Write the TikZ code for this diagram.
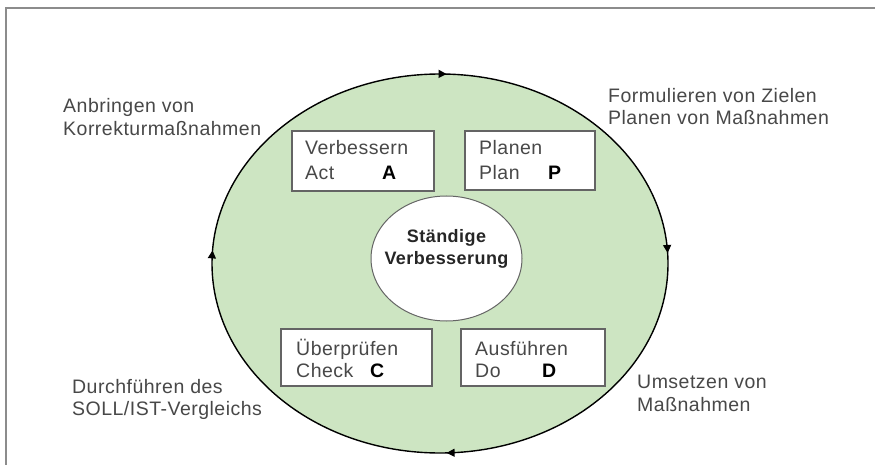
\documentclass[tikz,border=0pt]{standalone}
\usepackage{fontspec}
\setmainfont[LetterSpace=2.5]{Liberation Sans}
\usetikzlibrary{arrows.meta,decorations.markings}
\definecolor{cyclegreen}{RGB}{205,229,194}
\definecolor{txtgray}{RGB}{72,72,72}
\definecolor{framegray}{RGB}{140,140,140}
\definecolor{boxgray}{RGB}{100,100,100}
\tikzset{
  lbl/.style={anchor=base west,inner sep=0pt,text=txtgray,font=\fontsize{19.5}{23}\selectfont},
  key/.style={anchor=base west,inner sep=0pt,text=black,font=\fontsize{19.5}{23}\selectfont\bfseries},
  mid/.style={anchor=base,inner sep=0pt,text=black!85,font=\fontsize{18}{22}\selectfont\bfseries},
  phasebox/.style={draw=boxgray,line width=1.3pt,fill=white,inner sep=0pt},
  cyclearrow/.style={decoration={markings,
      mark=at position 0.245 with {\arrow{Triangle[length=8pt,width=8pt]}},
      mark=at position 0.51 with {\arrow{Triangle[length=8pt,width=8pt]}},
      mark=at position 0.755 with {\arrow{Triangle[length=8pt,width=8pt]}},
      mark=at position 0.992 with {\arrow{Triangle[length=8pt,width=8pt]}}},
    postaction={decorate}}
}
\begin{document}
\begin{tikzpicture}[x=1pt,y=-1pt]
\useasboundingbox (0,0) rectangle (875,465);
\fill[white] (0,0) rectangle (875,465);
% frame
\draw[framegray,line width=1.6pt] (6,465) -- (6,8) -- (875,8);
% big cycle
\draw[black,line width=1.4pt,fill=cyclegreen,cyclearrow] (440,263.5) ellipse [x radius=228,y radius=189.5];
% phase boxes
\node[phasebox,minimum width=142pt,minimum height=60pt] (actbox) at (363,161) {};
\node[phasebox,minimum width=130pt,minimum height=59pt] (planbox) at (530,160.5) {};
\node[phasebox,minimum width=151pt,minimum height=57pt] (checkbox) at (356.5,357.5) {};
\node[phasebox,minimum width=144pt,minimum height=57pt] (dobox) at (533,357.5) {};
% centre
\draw[boxgray,line width=1pt,fill=white] (446.5,258.5) ellipse [x radius=75.5,y radius=62.5];
\node[mid] (centre1) at (446.5,242) {Ständige};
\node[mid] (centre2) at (446.5,264) {Verbesserung};
% box texts
\node[lbl] (a1) at (305,155) {Verbessern};
\node[lbl] (a2) at (305,180) {Act};
\node[key] (a3) at (382,180) {A};
\node[lbl] (p1) at (479,155) {Planen};
\node[lbl] (p2) at (479,180) {Plan};
\node[key] (p3) at (548,180) {P};
\node[lbl] (c1) at (296,355) {Überprüfen};
\node[lbl] (c2) at (296,377) {Check};
\node[key] (c3) at (370,377) {C};
\node[lbl] (d1) at (475,355) {Ausführen};
\node[lbl] (d2) at (475,377) {Do};
\node[key] (d3) at (542,377) {D};
% outer labels
\node[lbl] (o1) at (63,113) {Anbringen von};
\node[lbl] (o2) at (63,136) {Korrekturmaßnahmen};
\node[lbl] (o3) at (608,103) {Formulieren von Zielen};
\node[lbl] (o4) at (608,125) {Planen von Maßnahmen};
\node[lbl] (o5) at (72,393) {Durchführen des};
\node[lbl] (o6) at (72,415) {SOLL/IST-Vergleichs};
\node[lbl] (o7) at (637,388) {Umsetzen von};
\node[lbl] (o8) at (637,411) {Maßnahmen};
\end{tikzpicture}
\end{document}
